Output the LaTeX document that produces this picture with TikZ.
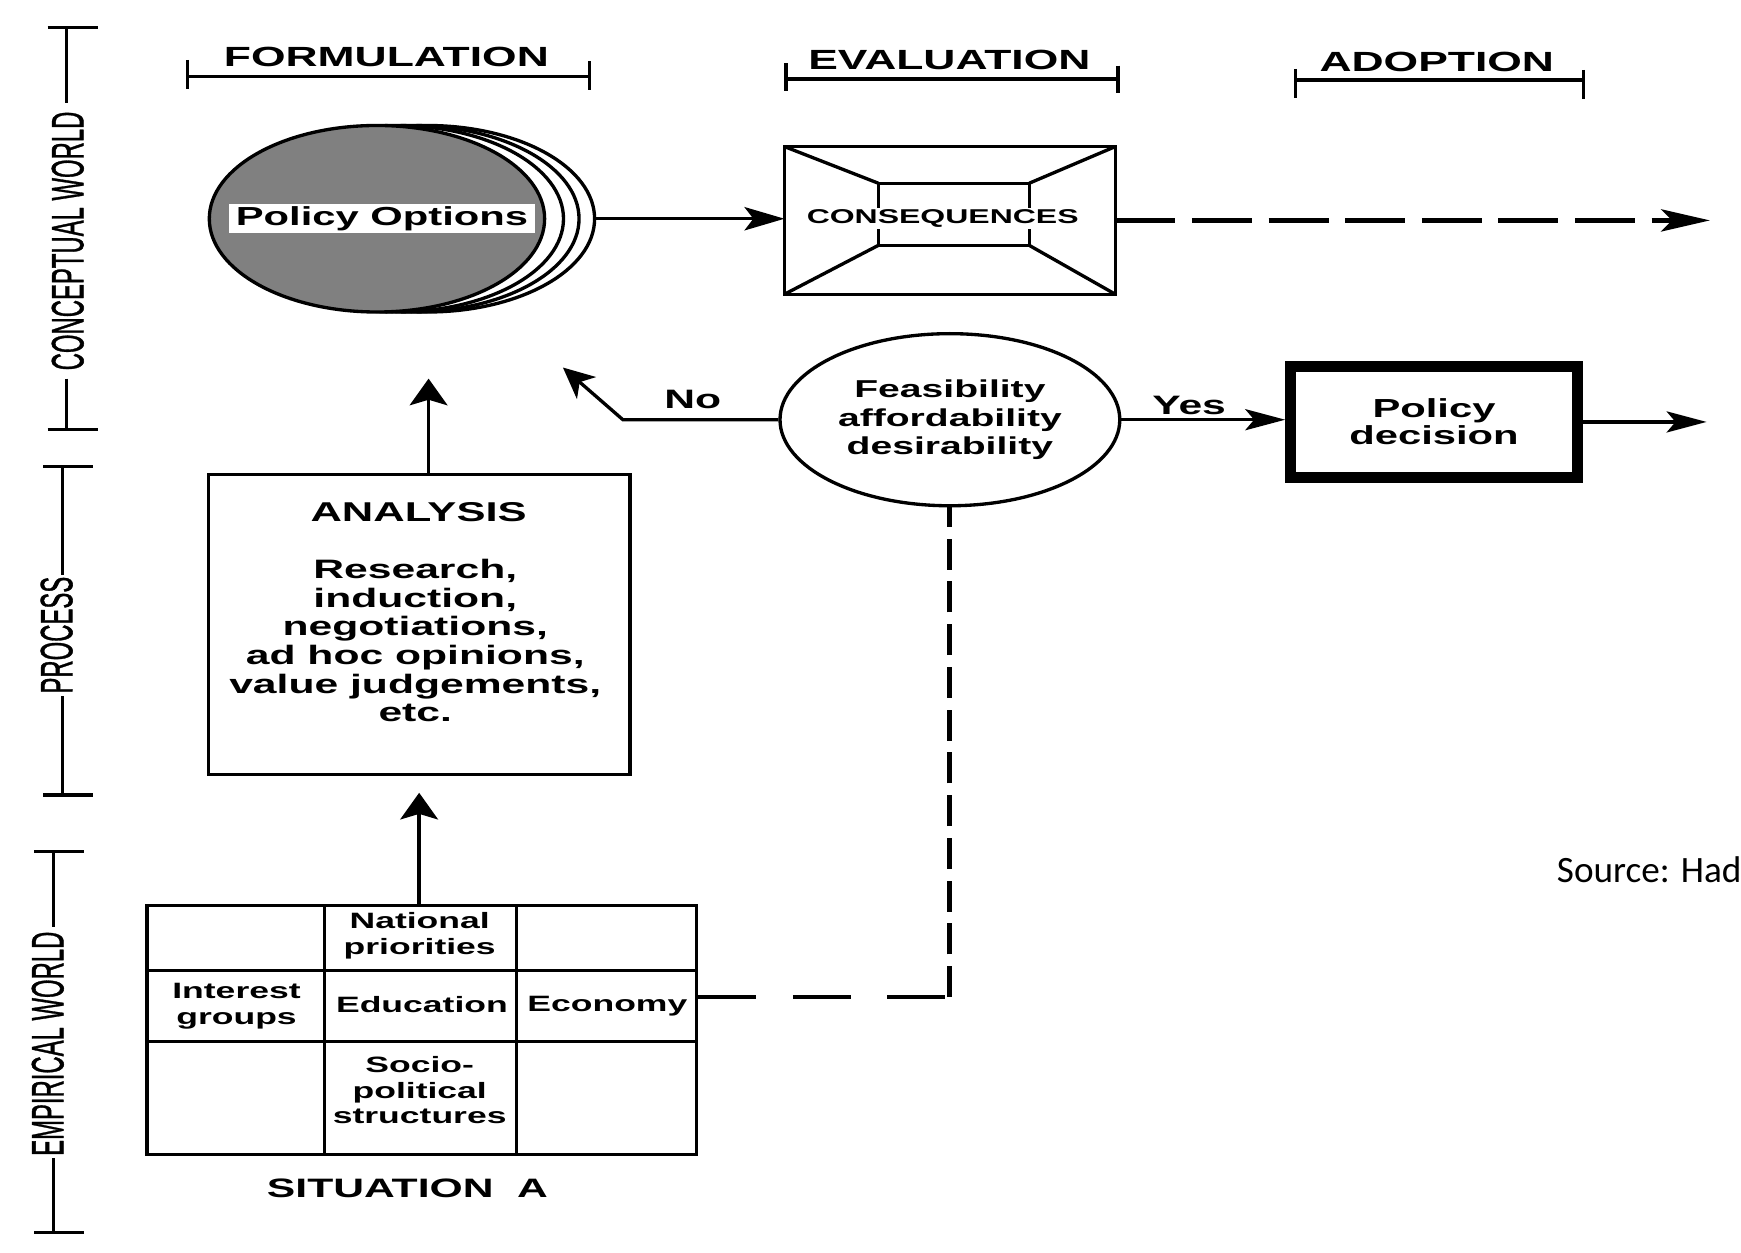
\documentclass[tikz,border=0pt]{standalone}
\usepackage{fontspec}
\setmainfont{Liberation Sans}
\newfontfamily\wf{Liberation Sans}[FakeStretch=1.6]
\newfontfamily\af{Liberation Sans}[FakeBold=1.2]
\newfontfamily\cf{Carlito}
\usetikzlibrary{shapes.geometric,arrows.meta}
\tikzset{
  ln/.style={line width=3pt},
  bx/.style={draw, ln, inner sep=0pt},
  phase/.style={font=\wf\bfseries\fontsize{25}{30}\selectfont, inner sep=0pt},
  axislab/.style={rotate=90, inner sep=0pt, font=\af\fontsize{21.5}{26}\selectfont},
  lab/.style={font=\wf\bfseries\fontsize{23.5}{25}\selectfont, inner sep=0pt, align=center},
  cell/.style={font=\wf\bfseries\fontsize{20}{23}\selectfont, inner sep=0pt, align=center},
  harrow/.style={ln, -{Stealth[length=36pt,width=19pt,inset=8pt]}},
  varrow/.style={ln, -{Stealth[length=24pt,width=34pt,inset=5pt]}},
}
\begin{document}
\begin{tikzpicture}[x=1pt,y=-1pt]
\useasboundingbox (0,0) rectangle (1568,1128);

% ---- left axis ----
\node[axislab] (cw) at (61,217) {\scalebox{1}[1.9]{CONCEPTUAL WORLD}};
\draw[ln] (43,25) -- (88,25);
\draw[ln] (60,25) -- (60,93);
\draw[ln] (60,341) -- (60,387);
\draw[ln] (43,387) -- (88,387);
\node[axislab] (pw) at (51,572) {\scalebox{1}[1.9]{PROCESS}};
\draw[ln] (39,420) -- (84,420);
\draw[ln] (56,420) -- (56,518);
\draw[ln] (56,627) -- (56,716);
\draw[ln] (39,716) -- (84,716);
\node[axislab] (ew) at (43,940) {\scalebox{1}[1.9]{EMPIRICAL WORLD}};
\draw[ln] (31,767) -- (76,767);
\draw[ln] (48,767) -- (48,835);
\draw[ln] (48,1043) -- (48,1110);
\draw[ln] (31,1110) -- (76,1110);

% ---- phases ----
\node[phase] (form) at (348,51) {FORMULATION};
\draw[ln] (169,69) -- (531,69);
\draw[ln] (169,54) -- (169,80);
\draw[ln] (531,55) -- (531,81);
\node[phase] (eval) at (855,54) {EVALUATION};
\draw[ln] (708,71) -- (1007,71);
\draw[ln] (708,57) -- (708,82);
\draw[ln] (1007,59) -- (1007,84);
\node[phase] (adop) at (1294,56) {ADOPTION};
\draw[ln] (1167,72) -- (1426,72);
\draw[ln] (1167,62) -- (1167,88);
\draw[ln] (1426,63) -- (1426,89);

% ---- policy options ----
\node[ellipse, draw, ln, fill=white, minimum width=302pt, minimum height=168pt, inner sep=0pt] (po3) at (384.5,197) {};
\node[ellipse, draw, ln, fill=white, minimum width=302pt, minimum height=168pt, inner sep=0pt] (po2) at (370.5,197) {};
\node[ellipse, draw, ln, fill=white, minimum width=302pt, minimum height=168pt, inner sep=0pt] (po1) at (356.5,197) {};
\node[ellipse, draw, ln, fill=black!50, minimum width=302pt, minimum height=168pt, inner sep=0pt] (po) at (339.5,197) {};
\node[lab, fill=white, minimum width=275pt, minimum height=26pt] (potext) at (344,197) {Policy Options};

% ---- consequences ----
\node[bx, outer sep=0pt, minimum width=298pt, minimum height=133pt] (cons) at (855.5,198.5) {};
\node[bx, outer sep=0pt, minimum width=136pt, minimum height=56pt] (consin) at (859,193) {};
\draw[ln] (cons.north west) -- (consin.north west);
\draw[ln] (cons.north east) -- (consin.north east);
\draw[ln] (cons.south west) -- (consin.south west);
\draw[ln] (cons.south east) -- (consin.south east);
\node[font=\wf\bfseries\fontsize{18}{20}\selectfont, fill=white, inner sep=1.5pt] (constext) at (849,197) {CONSEQUENCES};

\draw[ln, -{Stealth[length=36pt,width=21pt,inset=8pt]}] (po3.east) -- (po3.east -| cons.west);
\coordinate (dend) at (1540,198.5);
\draw[line width=4.5pt, dash pattern=on 54pt off 15pt, -{Stealth[length=44pt,width=20pt,inset=10pt]}] (cons.east) -- (dend);

% ---- feasibility ----
\node[ellipse, draw, ln, minimum width=306pt, minimum height=155pt, inner sep=0pt, align=center,
      font=\wf\bfseries\fontsize{22}{26}\selectfont] (feas) at (855.5,378) {Feasibility\\affordability\\desirability};
\coordinate (nocorner) at (561,378);
\coordinate (notip) at (507,331);
\draw[ln, -{Stealth[length=28pt,width=26pt,inset=8pt]}] (feas.west) -- (nocorner) -- (notip);
\node[lab, font=\wf\bfseries\fontsize{24}{26}\selectfont] (no) at (624,360) {No};

% ---- policy decision ----
\node[draw, line width=10pt, minimum width=258pt, minimum height=100pt, inner sep=0pt, align=center,
      font=\wf\bfseries\fontsize{23.5}{24}\selectfont] (pd) at (1291.5,380) {Policy\\decision};
\draw[harrow] (feas.east) -- (feas.east -| pd.west);
\node[lab, font=\wf\bfseries\fontsize{24}{26}\selectfont] (yes) at (1071,365) {Yes};
\coordinate (pdout) at (1537,380);
\draw[harrow] (pd.east) -- (pdout);

% ---- analysis ----
\node[bx, minimum width=380pt, minimum height=270pt] (ana) at (377.5,562.5) {};
\node[lab, font=\wf\bfseries\fontsize{24.5}{26}\selectfont] (anat) at (377,461) {ANALYSIS};
\node[lab, font=\wf\bfseries\fontsize{24}{25.8}\selectfont] (anal) at (374,577)
  {Research,\\induction,\\negotiations,\\ad hoc opinions,\\value judgements,\\etc.};
\coordinate (anatop) at (386,341);
\draw[varrow] ([xshift=8.5pt]ana.north) -- (anatop);

% ---- situation table ----
\node[bx, minimum width=495pt, minimum height=224pt] (tab) at (380,927.5) {};
\draw[ln] (292,815.5) -- (292,1039.5);
\draw[ln] (465,815.5) -- (465,1039.5);
\draw[ln] (132.5,874) -- (627.5,874);
\draw[ln] (132.5,938) -- (627.5,938);
\node[cell] (natp) at (378,843) {National\\priorities};
\node[cell] (intg) at (213,906) {Interest\\groups};
\node[cell] (edu) at (380,905) {Education};
\node[cell] (econ) at (547,906) {Economy};
\node[cell] (socp) at (378,982) {Socio-\\political\\structures};
\node[font=\wf\bfseries\fontsize{24}{26}\selectfont, inner sep=0pt] (sit) at (367,1070) {SITUATION\ \ A};
\draw[varrow, shorten >=15pt] (tab.north -| ana.south) -- (ana.south);

% ---- dashed link from situation to feasibility ----
\coordinate (dcorner) at (855.5,898);
\draw[line width=4pt, dash pattern=on 52pt off 33pt] (tab.east |- dcorner) -- (dcorner);
\draw[line width=4.5pt, dash pattern=on 28pt off 10.5pt] (dcorner) -- (feas.south);

% ---- source ----
\node[font=\cf\fontsize{33.5}{40}\selectfont, anchor=base west, inner sep=0pt] (src) at (1402,795) {Source: Had};
\end{tikzpicture}
\end{document}
